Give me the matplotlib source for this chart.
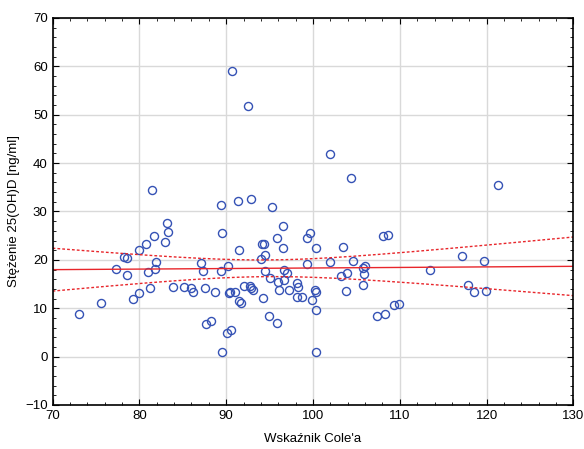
import numpy as np
import matplotlib.pyplot as plt
from matplotlib.ticker import MultipleLocator

plt.rcParams['font.family'] = ['Liberation Sans', 'DejaVu Sans']

# Cole index vs 25(OH)D concentration
cole = [73.1, 75.6, 77.3, 78.2, 78.6, 78.6, 79.3, 79.9, 80.0, 80.8,
        81.0, 81.2, 81.5, 81.7, 81.9, 81.85, 83.2, 83.3, 83.0, 83.9,
        85.1, 86.0, 86.2, 87.1, 87.3, 87.6, 87.65, 88.3, 88.7, 89.4,
        89.5, 89.4, 90.1, 89.5, 90.2, 90.3, 90.7, 92.5, 101.9, 104.35,
        91.4, 92.9, 95.3, 96.5, 95.8, 94.1, 94.3, 91.5, 96.5, 94.5,
        94.0, 94.5, 96.6, 97.05, 95.1, 96.0, 96.7, 92.0, 92.7, 92.9,
        93.1, 90.45, 91.0, 94.2, 91.5, 91.75, 96.1, 97.2, 98.2, 98.3,
        98.2, 98.7, 99.3, 99.7, 99.35, 100.4, 99.9, 100.2, 100.4, 100.3,
        100.4, 94.9, 95.8, 90.6, 101.9, 103.4, 104.65, 103.2, 103.9, 103.8,
        105.7, 106.0, 105.9, 105.7, 107.35, 108.3, 108.1, 108.6, 109.3, 109.95,
        113.45, 117.2, 119.7, 117.8, 118.5, 119.9, 121.25]
vitd = [8.8, 11.1, 18.1, 20.6, 20.4, 16.9, 11.9, 13.1, 22.0, 23.2,
        17.5, 14.2, 34.4, 25.0, 19.6, 18.1, 27.7, 25.7, 23.7, 14.4,
        14.4, 14.2, 13.3, 19.3, 17.7, 14.1, 6.7, 7.4, 13.3, 31.3,
        25.5, 17.6, 4.9, 0.9, 18.7, 13.2, 59.1, 51.8, 41.8, 37.0,
        32.2, 32.6, 31.0, 26.9, 24.6, 23.2, 23.3, 22.0, 22.5, 21.0,
        20.2, 17.7, 17.9, 17.2, 16.2, 15.5, 15.8, 14.6, 14.7, 14.2,
        13.7, 13.3, 13.3, 12.1, 11.5, 11.1, 13.8, 13.8, 15.3, 14.4,
        12.4, 12.4, 24.5, 25.5, 19.2, 22.5, 11.6, 13.8, 13.3, 9.7,
        0.95, 8.4, 7.0, 5.4, 19.6, 22.6, 19.75, 16.6, 17.3, 13.55,
        18.4, 18.65, 17.1, 14.8, 8.45, 8.9, 24.9, 25.2, 10.7, 10.8,
        18.0, 20.7, 19.75, 14.8, 13.3, 13.55, 35.5]

x = np.array(cole)
y = np.array(vitd)

# linear fit with 95% confidence band of the mean
n = len(x)
b, a = np.polyfit(x, y, 1)
resid = y - (a + b * x)
s = np.sqrt(np.sum(resid**2) / (n - 2))
xs = np.linspace(70, 130, 200)
ys = a + b * xs
se = s * np.sqrt(1 / n + (xs - x.mean())**2 / np.sum((x - x.mean())**2))
t = 1.984
fig, ax = plt.subplots(figsize=(5.84, 4.49), dpi=100)
fig.subplots_adjust(left=0.09, right=0.982, top=0.96, bottom=0.098)

ax.grid(True, color='#d9d9d9', linewidth=1)
ax.set_axisbelow(True)
ax.plot(x, y, 'o', mfc='none', mec='#3552b5', ms=5.8, mew=1)
ax.plot(xs, ys, '-', color='#e8262b', lw=1)
ax.plot(xs, ys + t * se, color='#e8262b', lw=1, ls=(0, (2, 1.5)))
ax.plot(xs, ys - t * se, color='#e8262b', lw=1, ls=(0, (2, 1.5)))

ax.set_xlim(70, 130)
ax.set_ylim(-10, 70)
ax.xaxis.set_major_locator(MultipleLocator(10))
ax.xaxis.set_minor_locator(MultipleLocator(2))
ax.yaxis.set_major_locator(MultipleLocator(10))
ax.yaxis.set_minor_locator(MultipleLocator(2))
ax.tick_params(which='both', direction='in', top=True, right=True, labelsize=9.5)
ax.tick_params(which='major', length=4)
ax.tick_params(which='minor', length=2)
for sp in ax.spines.values():
    sp.set_linewidth(1.2)

ax.set_xlabel("Wskaźnik Cole'a", fontsize=9.5, labelpad=8)
ax.set_ylabel("Stężenie 25(OH)D [ng/ml]", fontsize=9.5, labelpad=4)

plt.savefig('out.png')
